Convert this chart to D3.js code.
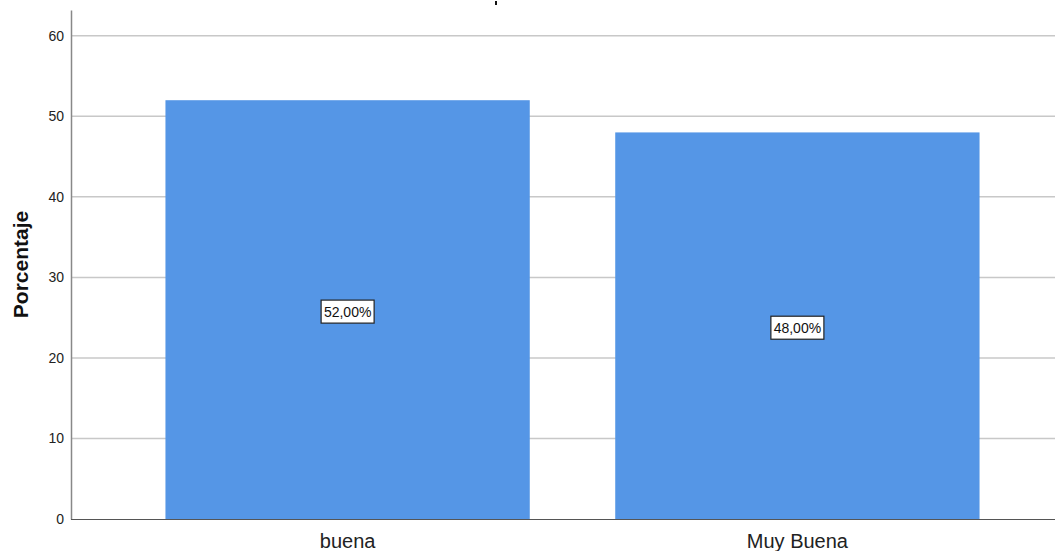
<!DOCTYPE html>
<html>
<head>
<meta charset="utf-8">
<script src="https://cdn.jsdelivr.net/npm/d3@7"></script>
<style>
  body { margin: 0; background: #fff; }
  text { font-family: "Liberation Sans", Arial, sans-serif; }
</style>
</head>
<body>
<script>
const width = 1055;
const height = 551;

const categories = ['buena', 'Muy Buena'];
const values = [52, 48];
const labels = ['52,00%', '48,00%'];
const y_ticks = [0, 10, 20, 30, 40, 50, 60];

const left = 71;
const bottom = 519;
const top_y = 10;

const svg = d3.select('body')
    .append('svg')
    .attr('width', width)
    .attr('height', height);

const x = d3.scaleBand()
    .domain(categories)
    .range([left, 1074])
    .paddingInner(0.19)
    .paddingOuter(0.21);

const y = d3.scaleLinear()
    .domain([0, 63.2])
    .range([bottom, top_y]);

// gridlines
svg.append('g')
    .attr('class', 'grid')
    .selectAll('line')
    .data(y_ticks.slice(1))
    .enter()
    .append('line')
    .attr('x1', left)
    .attr('x2', width)
    .attr('y1', d => y(d))
    .attr('y2', d => y(d))
    .attr('stroke', '#c8c8c8')
    .attr('stroke-width', 1.5);

// bars
svg.append('g')
    .attr('class', 'bars')
    .selectAll('rect')
    .data(values)
    .enter()
    .append('rect')
    .attr('x', (d, i) => x(categories[i]))
    .attr('y', d => y(d))
    .attr('width', x.bandwidth())
    .attr('height', d => y(0) - y(d))
    .attr('fill', '#5596e6');

// y axis
const y_axis = svg.append('g')
    .attr('transform', `translate(${left},0)`)
    .call(d3.axisLeft(y).tickValues(y_ticks).tickSize(0).tickPadding(7));
y_axis.select('.domain').attr('stroke', '#888').attr('stroke-width', 1.5);
y_axis.selectAll('text')
    .attr('font-size', 14)
    .attr('fill', '#222')
    .style('font-family', '"Liberation Sans", Arial, sans-serif');

// x axis
const x_axis = svg.append('g')
    .attr('transform', `translate(0,${bottom})`)
    .call(d3.axisBottom(x).tickSize(0).tickPadding(15));
x_axis.select('.domain').attr('d', `M${left},0.5H${width}`).attr('stroke', '#555').attr('stroke-width', 1.2);
x_axis.selectAll('text')
    .attr('font-size', 20)
    .attr('fill', '#222')
    .style('font-family', '"Liberation Sans", Arial, sans-serif');

// y label
svg.append('text')
    .attr('transform', `translate(28,${(top_y + bottom) / 2}) rotate(-90)`)
    .attr('text-anchor', 'middle')
    .attr('font-size', 21)
    .attr('font-weight', 'bold')
    .attr('fill', '#111')
    .text('Porcentaje');

// tiny piece of the title that sits above the picture edge
svg.append('rect')
    .attr('x', 495)
    .attr('y', 1)
    .attr('width', 2)
    .attr('height', 4)
    .attr('fill', '#111');

// data labels
const lab = svg.append('g')
    .attr('class', 'labels')
    .selectAll('g')
    .data(values)
    .enter()
    .append('g')
    .attr('transform', (d, i) => `translate(${x(categories[i]) + x.bandwidth() / 2},${(y(d) + y(0)) / 2 + 2})`);
lab.append('rect')
    .attr('x', -26.5)
    .attr('y', -11.5)
    .attr('width', 53)
    .attr('height', 23)
    .attr('fill', '#fff')
    .attr('stroke', '#222')
    .attr('stroke-width', 1.2);
lab.append('text')
    .attr('text-anchor', 'middle')
    .attr('dy', '0.36em')
    .attr('font-size', 14)
    .attr('fill', '#111')
    .text((d, i) => labels[i]);
</script>
</body>
</html>
